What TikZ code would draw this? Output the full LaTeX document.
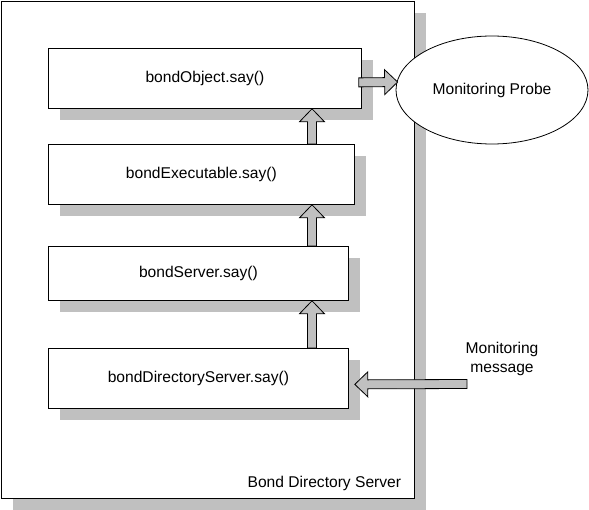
\documentclass[tikz,border=0pt]{standalone}
\usepackage{fontspec}
\setmainfont{Liberation Sans}
\usetikzlibrary{calc}
\usetikzlibrary{shadows}
\usetikzlibrary{shapes.geometric}

\definecolor{shade}{RGB}{192,192,192}

\newcommand{\blockarrow}[2]{%
  \coordinate (H) at ($(#2)!13pt!(#1)$);
  \filldraw[fill = shade] ($(#1)!4.5pt!90:(#2)$) -- ($(H)!4.5pt!90:(#2)$) --
  ($(H)!12.5pt!90:(#2)$) -- (#2) -- ($(H)!12.5pt!-90:(#2)$) --
  ($(H)!4.5pt!-90:(#2)$) -- ($(#1)!4.5pt!-90:(#2)$) -- cycle;
}

\begin{document}
\begin{tikzpicture}[x = 1pt, y = -1pt, line width = .8pt,
  font = \fontsize{15.6}{18.5}\selectfont,
  box/.style = {draw, fill = white, inner sep = 0, anchor = north west,
    drop shadow = {shadow xshift = 12pt, shadow yshift = -12pt,
      opacity = 1, fill = shade}}]
  \useasboundingbox (0, 0) rectangle (589, 510);

  \node[box, minimum width = 413, minimum height = 497] (server) at (1, 1) {};
  \node[anchor = east] (serverlabel) at ($(server.south east) + (-10, -15)$)
  {Bond Directory Server};

  \node[box, minimum width = 313, minimum height = 60] (object) at (48, 48)
  {bondObject.say()};
  \node[box, minimum width = 306, minimum height = 60] (executable) at (48, 144)
  {bondExecutable.say()};
  \node[box, minimum width = 300, minimum height = 54] (bserver) at (48, 246)
  {bondServer.say()};
  \node[box, minimum width = 300, minimum height = 60] (directory) at (48, 348)
  {bondDirectoryServer.say()};

  \node[draw, ellipse, fill = white, minimum width = 192, minimum height = 108]
  (probe) at (492, 90) {Monitoring Probe};
  \node[align = center] (message) at (502, 359) {Monitoring\\message};

  \coordinate (up) at (312, 0);
  \coordinate (X1) at (executable.north -| up);
  \coordinate (O1) at (object.south -| up);
  \coordinate (S1) at (bserver.north -| up);
  \coordinate (X2) at (executable.south -| up);
  \coordinate (D1) at (directory.north -| up);
  \coordinate (S2) at (bserver.south -| up);
  \coordinate (O2) at ($(object.east) + (-3, 4)$);
  \coordinate (P1) at ($(probe.west) + (2, -8)$);
  \coordinate (M1) at (467, 384);
  \coordinate (D2) at ($(directory.east) + (6, 6)$);

  \blockarrow{X1}{O1}
  \blockarrow{S1}{X2}
  \blockarrow{D1}{S2}
  \blockarrow{O2}{P1}
  \blockarrow{M1}{D2}
\end{tikzpicture}
\end{document}
